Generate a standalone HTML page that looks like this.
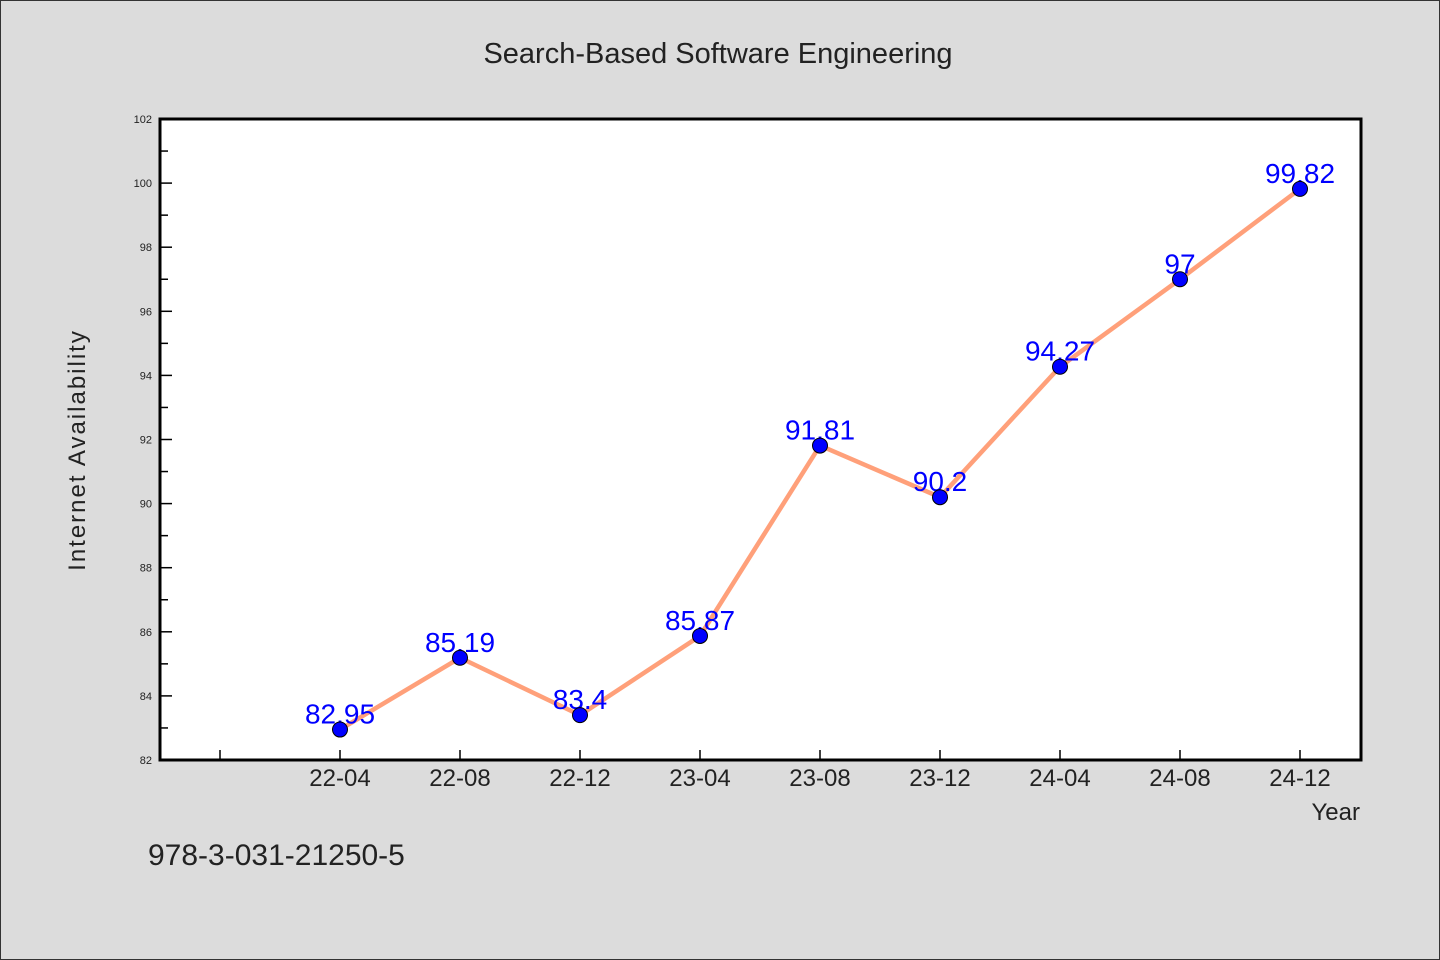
<!DOCTYPE html>
<html><head><meta charset="utf-8"><style>
body{margin:0;background:#dcdcdc;}
svg{display:block;}
text{font-family:"WenQuanYi Zen Hei","Liberation Sans",sans-serif;}
</style></head><body>
<svg id="chart" width="1440" height="960" xmlns="http://www.w3.org/2000/svg">
<rect x="0.5" y="0.5" width="1439" height="959" fill="#dcdcdc" stroke="#333" stroke-width="1"/>
<text x="718" y="63" font-size="29" text-anchor="middle" fill="#222">Search-Based Software Engineering</text>
<rect x="160" y="119" width="1201" height="641" fill="#fff"/>
<g id="grid"></g>
<g id="series"></g>
<rect x="160" y="119" width="1201" height="641" fill="none" stroke="#000" stroke-width="3"/>
<text transform="translate(85,450) rotate(-90)" font-size="24" text-anchor="middle" fill="#222" letter-spacing="2">Internet Availability</text>
<text x="1360" y="820" font-size="24" text-anchor="end" fill="#222">Year</text>
<text x="148" y="865" font-size="30" fill="#222">978-3-031-21250-5</text>
</svg>
<script>
const categories = ["", "22-04","22-08","22-12","23-04","23-08","23-12","24-04","24-08","24-12"];
const values = [null, 82.95, 85.19, 83.4, 85.87, 91.81, 90.2, 94.27, 97, 99.82];
const labels = ["", "82.95","85.19","83.4","85.87","91.81","90.2","94.27","97","99.82"];
const yTicks = [82,84,86,88,90,92,94,96,98,100,102];
const NS="http://www.w3.org/2000/svg";
const x0=160,x1=1360,yTop=119,yBot=760,yMin=82,yMax=102;
const band=(x1-x0)/categories.length;
function xs(i){return x0+band*(i+0.5);}
function ys(v){return yBot-(v-yMin)/(yMax-yMin)*(yBot-yTop);}
function mk(tag,attrs,parent){const e=document.createElementNS(NS,tag);for(const k in attrs)e.setAttribute(k,attrs[k]);parent.appendChild(e);return e;}
const g=document.getElementById('grid'), s=document.getElementById('series');
yTicks.forEach((t,i)=>{
  const y=ys(t);
  const tk=mk('line',{x1:160,x2:172,y1:y,y2:y,stroke:'#000','stroke-width':1.5},g);
  
  
  if(i<yTicks.length-1){const ym=ys(t+1);
    const mt=mk('line',{x1:160,x2:168,y1:ym,y2:ym,stroke:'#000','stroke-width':1.5},g);
    
    }
  const tl=mk('text',{x:152,y:y+4,'font-size':11,'text-anchor':'end',fill:'#222'},g);
  tl.textContent=t;
  
  
});
categories.forEach((c,i)=>{
  const x=xs(i);
  const tk=mk('line',{x1:x,x2:x,y1:760,y2:750,stroke:'#000','stroke-width':1.5},g);
  
  
  const tl=mk('text',{x:x,y:786,'font-size':24,'text-anchor':'middle',fill:'#222'},g);
  tl.textContent=c;
  
  
});
let pts=[];values.forEach((v,i)=>{if(v!=null)pts.push(xs(i)+','+ys(v));});
const line=mk('polyline',{points:pts.join(' '),fill:'none',stroke:'#ffa07a','stroke-width':4.5,'stroke-linejoin':'round'},s);


values.forEach((v,i)=>{if(v==null)return;
  const t=mk('text',{x:xs(i),y:ys(v)-6,'font-size':28,'text-anchor':'middle',fill:'#0000ff'},s);
  t.textContent=labels[i];
  
  
});
values.forEach((v,i)=>{if(v==null)return;
  const c=mk('circle',{cx:xs(i),cy:ys(v),r:7.5,fill:'#0000ff',stroke:'#000','stroke-width':1},s);
  
  
});
</script>
</body></html>
